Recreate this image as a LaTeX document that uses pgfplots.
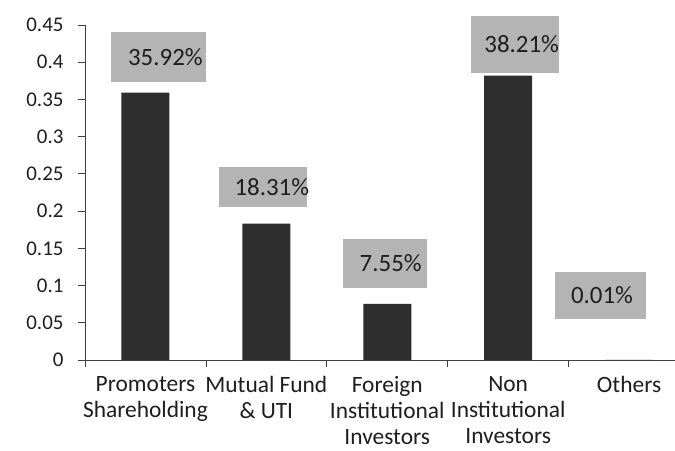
\documentclass[border=0pt]{standalone}
\usepackage{fontspec}
\setmainfont{Carlito}
\usepackage{pgfplots}
\pgfplotsset{compat=1.18}
\definecolor{bardark}{HTML}{2E2E2E}
\definecolor{boxgray}{HTML}{B4B4B4}
\definecolor{txt}{HTML}{1E1E1E}
\begin{document}
\begin{tikzpicture}
\begin{axis}[
  scale only axis, width=590bp, height=335bp,
  xmin=-0.5, xmax=4.38, ymin=0, ymax=0.45,
  axis x line=bottom, axis y line=left,
  axis line style={-, black!75, line width=0.8bp},
  clip=false,
  ytick={0,0.05,0.1,0.15,0.2,0.25,0.3,0.35,0.4,0.45},
  yticklabels={0,0.05,0.1,0.15,0.2,0.25,0.3,0.35,0.4,0.45},
  xtick={0,1,2,3,4},
  xticklabels={Promoters\\Shareholding, Mutual Fund\\\& UTI, Foreign\\Institutional\\Investors, Non\\Institutional\\Investors, Others},
  minor xtick={-0.5,0.5,1.5,2.5,3.5},
  major x tick style={draw=none},
  tick align=outside,
  major tick length=7bp, minor tick length=7bp,
  tick style={black!75, line width=0.8bp},
  y tick label style={font=\fontsize{21}{21}\selectfont, text=txt, xshift=-11bp},
  x tick label style={align=center, font=\fontsize{23.5}{26}\selectfont, text=txt, anchor=north, yshift=-6bp},
]
\addplot[ybar, bar width=48bp, fill=bardark, draw=none] coordinates {
  (0,0.3592) (1,0.1831) (2,0.0755) (3,0.3821) (4,0.0001)
};
\addplot[draw=none, mark=none,
  nodes near coords={\hspace*{\dx bp}\raisebox{\dy bp}{\pgfplotspointmeta\%}\hspace*{-\dx bp}},
  point meta=explicit symbolic,
  visualization depends on={\thisrow{w} \as \bw},
  visualization depends on={\thisrow{h} \as \bh},
  visualization depends on={\thisrow{dx} \as \dx},
  visualization depends on={\thisrow{dy} \as \dy},
  nodes near coords style={fill=boxgray, minimum width=\bw bp, minimum height=\bh bp,
    anchor=center, inner sep=0pt, font=\fontsize{25}{25}\selectfont, text=txt}]
  table[x=x, y=y, meta=label] {
x y w h dx dy label
0.107 0.407 95 50 7 1 35.92
0.971 0.2324 88 40 9 -5 18.31
1.979 0.1296 84 49 6 1 7.55
3.054 0.4238 88 57 7 2 38.21
3.760 0.0866 91 47 2 -4 0.01
};
\end{axis}
\pgfresetboundingbox
\path ([shift={(-85bp,-91bp)}]current axis.south west) rectangle ++(675bp,451bp);
\end{tikzpicture}
\end{document}
